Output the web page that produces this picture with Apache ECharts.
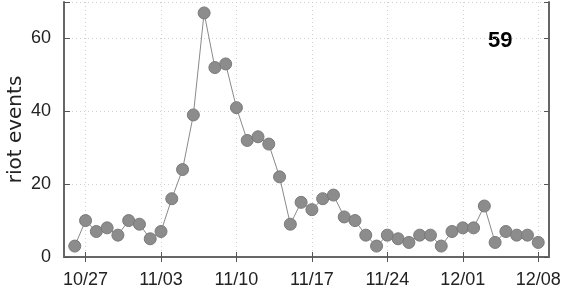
<!DOCTYPE html>
<html>
<head>
<meta charset="utf-8">
<script src="https://cdn.jsdelivr.net/npm/echarts@6/dist/echarts.min.js"></script>
<style>
html,body{margin:0;padding:0;background:#fff;}
#chart{width:564px;height:294px;}
</style>
</head>
<body>
<div id="chart"></div>
<script>
// Daily dates (axis spans one extra day either side of the data)
const axisDates = ['10/25','10/26','10/27','10/28','10/29','10/30','10/31',
  '11/01','11/02','11/03','11/04','11/05','11/06','11/07','11/08','11/09','11/10',
  '11/11','11/12','11/13','11/14','11/15','11/16','11/17','11/18','11/19','11/20',
  '11/21','11/22','11/23','11/24','11/25','11/26','11/27','11/28','11/29','11/30',
  '12/01','12/02','12/03','12/04','12/05','12/06','12/07','12/08','12/09'];
// Data dates 10/26 .. 12/08
const dataDates = axisDates.slice(1, -1);
const riotEvents = [3,10,7,8,6,10,9,5,7,16,24,39,67,52,53,41,32,33,31,22,9,15,13,16,17,11,10,6,3,6,5,4,6,6,3,7,8,8,14,4,7,6,6,4];
const xTickLabels = ['10/27','11/03','11/10','11/17','11/24','12/01','12/08'];
const yTicks = [0,20,40,60];
const annotation = '59';

const seriesData = dataDates.map((d, i) => [d, riotEvents[i]]);
const isTick = (idx) => xTickLabels.indexOf(axisDates[idx]) >= 0;

const frame = {show:true, lineStyle:{color:'#666', width:2}};
const grid = {type:[1,3], color:'#d0d0d0', width:1};
const font = 'Liberation Sans';

const chart = echarts.init(document.getElementById('chart'), null, {renderer:'canvas'});
chart.setOption({
  animation:false,
  backgroundColor:'#fff',
  grid:{left:64, right:15, top:2, bottom:37, containLabel:false, outerBoundsMode:'none'},
  xAxis:[{
    type:'category', data:axisDates, boundaryGap:false, position:'bottom',
    axisLine:frame,
    axisTick:{show:true, inside:true, length:5, interval:(i)=>isTick(i), lineStyle:{color:'#555', width:1}},
    axisLabel:{interval:(i)=>isTick(i), fontFamily:font, fontSize:18, color:'#222', margin:14},
    splitLine:{show:true, interval:(i)=>isTick(i), lineStyle:grid}
  },{
    type:'category', data:axisDates, boundaryGap:false, position:'top',
    axisLine:frame,
    axisTick:{show:true, inside:true, length:5, interval:(i)=>isTick(i), lineStyle:{color:'#555', width:1}},
    axisLabel:{show:false}, splitLine:{show:false}
  }],
  yAxis:[{
    type:'value', min:0, max:70, interval:20, position:'left',
    name:'riot events', nameLocation:'middle', nameGap:38, nameMoveOverlap:false,
    nameTextStyle:{fontFamily:'DejaVu Sans', fontSize:20, color:'#222'},
    axisLine:frame,
    axisTick:{show:true, inside:true, length:6, lineStyle:{color:'#555', width:1}},
    axisLabel:{fontFamily:font, fontSize:18, color:'#222', margin:13,
      formatter:(v)=> yTicks.indexOf(v) >= 0 ? String(v) : ''},
    splitLine:{show:true, lineStyle:grid}
  },{
    type:'value', min:0, max:70, interval:20, position:'right',
    axisLine:frame,
    axisTick:{show:true, inside:true, length:5, lineStyle:{color:'#555', width:1}},
    axisLabel:{show:false}, splitLine:{show:false}
  }],
  graphic:[{
    type:'text', left:488, top:30,
    style:{text:annotation, fontFamily:'Liberation Sans', fontWeight:'bold', fontSize:22, fill:'#000'}
  }],
  series:[{
    type:'line', xAxisIndex:0, yAxisIndex:0, data:seriesData,
    symbol:'circle', symbolSize:12, showAllSymbol:true,
    lineStyle:{color:'#8a8a8a', width:1},
    itemStyle:{color:'#8c8c8c', borderColor:'#7a7a7a', borderWidth:1},
    z:3
  }]
});
</script>
</body>
</html>
